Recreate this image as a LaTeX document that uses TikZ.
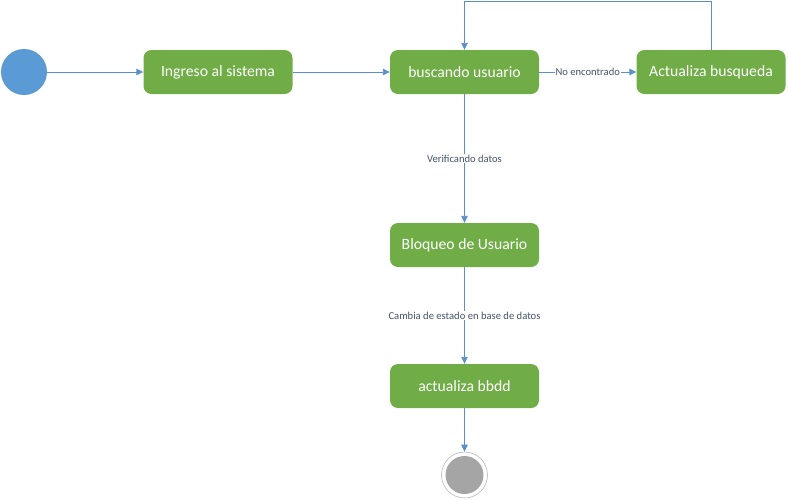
\documentclass[tikz,border=0pt]{standalone}
\usepackage{fontspec}
\setmainfont{Carlito}
\usetikzlibrary{arrows.meta}
\definecolor{stgreen}{HTML}{70AD47}
\definecolor{stblue}{HTML}{5B9BD5}
\definecolor{arrowblue}{HTML}{5B8FCB}
\definecolor{lbl}{HTML}{44546A}
\definecolor{endgray}{HTML}{A5A5A5}
\tikzset{
  state/.style={draw=none, fill=stgreen, rounded corners=8pt, minimum width=149pt, minimum height=44pt, text=white, font=\fontsize{15.7}{17}\selectfont, inner sep=0pt},
  conn/.style={draw=arrowblue, line width=0.9pt, -{Triangle[length=7pt,width=6.5pt]}},
  lab/.style={fill=white, text=lbl, font=\fontsize{10.6}{12}\selectfont, inner sep=1pt}
}
\begin{document}
\begin{tikzpicture}[x=1pt,y=-1pt]
\useasboundingbox (0,0) rectangle (788,499);
\node[circle, fill=stblue, minimum size=46pt, inner sep=0pt] (start) at (24,72) {};
\node[state] (ingreso) at (218,72) {Ingreso al sistema};
\node[state] (busc) at (464.5,72) {buscando usuario};
\node[state] (act) at (711,72) {Actualiza busqueda};
\node[state] (bloq) at (464.5,245) {Bloqueo de Usuario};
\node[state] (bbdd) at (464.5,386) {actualiza bbdd};
\node[circle, draw=endgray!80, line width=0.6pt, fill=white, minimum size=46pt, inner sep=0pt] (fin) at (464.5,475) {};
\node[circle, fill=endgray, minimum size=38pt, inner sep=0pt] at (fin) {};
\coordinate (tr) at (711,1);
\coordinate (tl) at (464.5,1);
\draw[conn] (start) -- (ingreso);
\draw[conn] (ingreso) -- (busc);
\draw[conn] (busc) -- node[lab] {No encontrado} (act);
\draw[conn] (act.north) -- (tr) -- (tl) -- (busc.north);
\draw[conn] (busc) -- node[lab, pos=0.5] {Verificando datos} (bloq);
\draw[conn] (bloq) -- node[lab, pos=0.5] {Cambia de estado en base de datos} (bbdd);
\draw[conn] (bbdd) -- (fin);
\end{tikzpicture}
\end{document}
